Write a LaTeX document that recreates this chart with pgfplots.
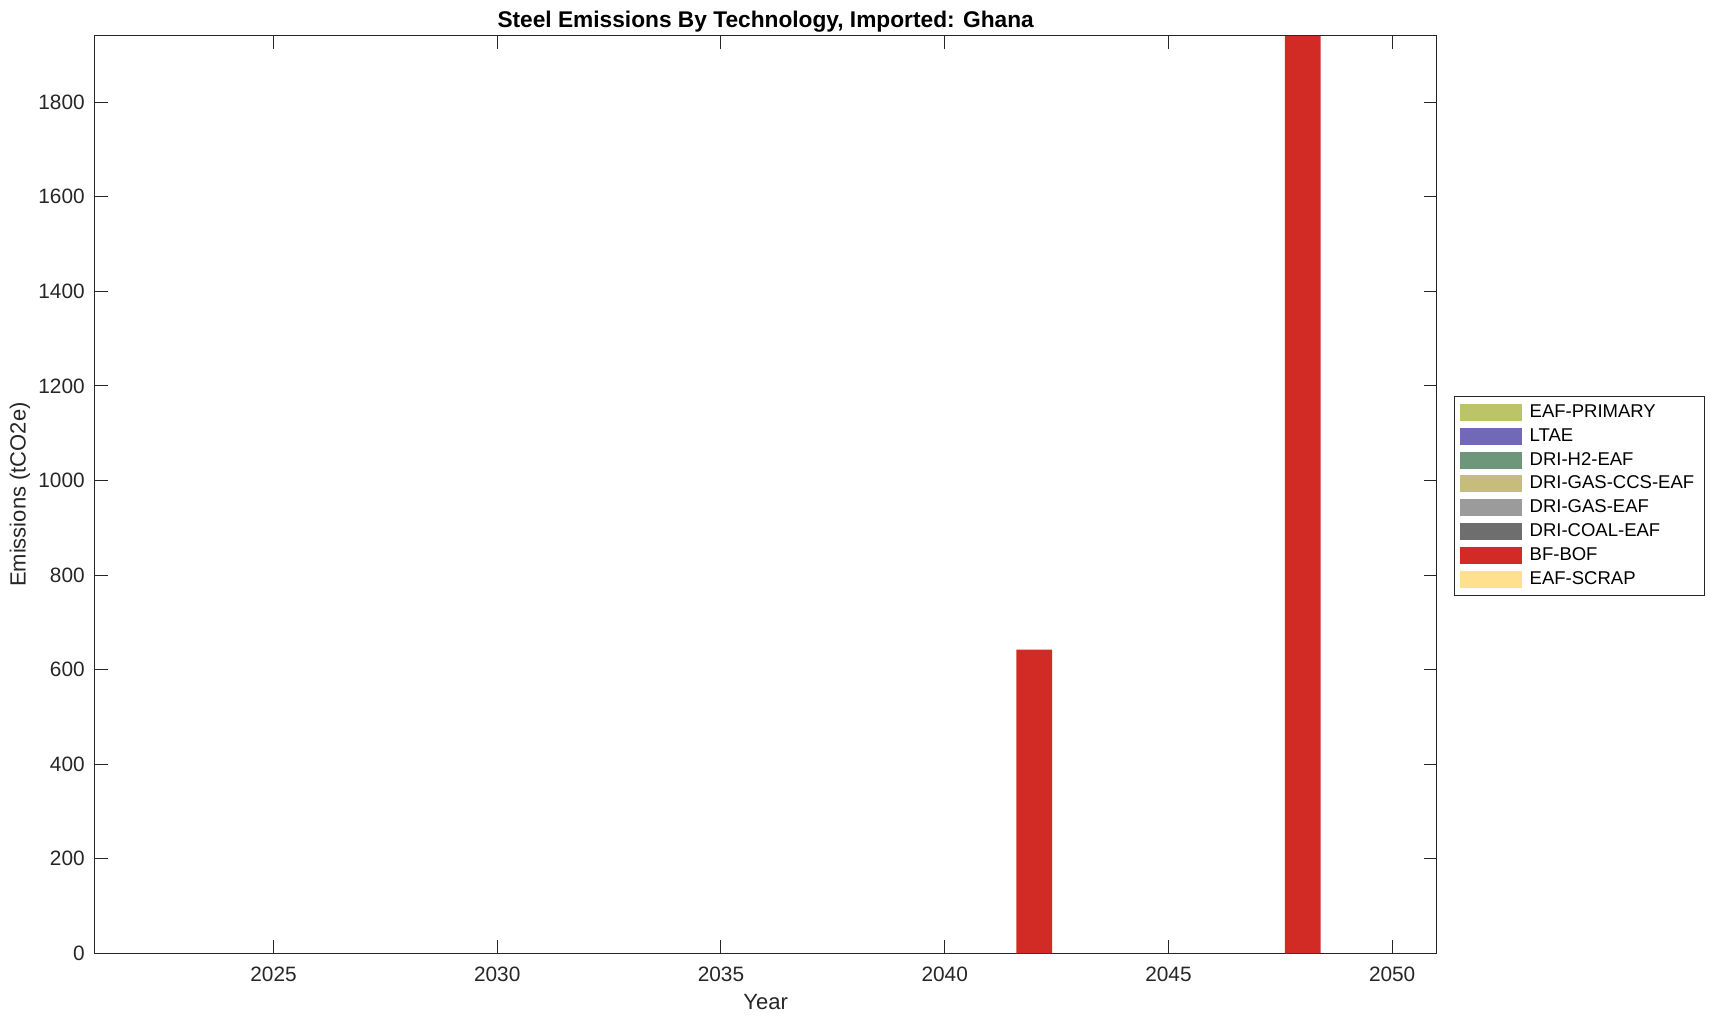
\documentclass[border=0pt]{standalone}
\usepackage{fontspec}
\setmainfont{Liberation Sans}
\usepackage{pgfplots}
\usepackage{pgfplotstable}
\pgfplotsset{compat=1.18}

\definecolor{cEAFP}{RGB}{188,196,104}
\definecolor{cLTAE}{RGB}{114,104,184}
\definecolor{cH2}{RGB}{110,150,122}
\definecolor{cCCS}{RGB}{198,188,124}
\definecolor{cGAS}{RGB}{155,155,155}
\definecolor{cCOAL}{RGB}{110,110,110}
\definecolor{cBF}{RGB}{210,43,37}
\definecolor{cSCRAP}{RGB}{254,224,142}
\definecolor{axgray}{RGB}{38,38,38}

% emissions (tCO2e) by year and technology
\pgfplotstableread{
year eafp ltae h2 ccs gas coal bfbof scrap
2022 0 0 0 0 0 0 0 0
2023 0 0 0 0 0 0 0 0
2024 0 0 0 0 0 0 0 0
2025 0 0 0 0 0 0 0 0
2026 0 0 0 0 0 0 0 0
2027 0 0 0 0 0 0 0 0
2028 0 0 0 0 0 0 0 0
2029 0 0 0 0 0 0 0 0
2030 0 0 0 0 0 0 0 0
2031 0 0 0 0 0 0 0 0
2032 0 0 0 0 0 0 0 0
2033 0 0 0 0 0 0 0 0
2034 0 0 0 0 0 0 0 0
2035 0 0 0 0 0 0 0 0
2036 0 0 0 0 0 0 0 0
2037 0 0 0 0 0 0 0 0
2038 0 0 0 0 0 0 0 0
2039 0 0 0 0 0 0 0 0
2040 0 0 0 0 0 0 0 0
2041 0 0 0 0 0 0 0 0
2042 0 0 0 0 0 0 642 0
2043 0 0 0 0 0 0 0 0
2044 0 0 0 0 0 0 0 0
2045 0 0 0 0 0 0 0 0
2046 0 0 0 0 0 0 0 0
2047 0 0 0 0 0 0 0 0
2048 0 0 0 0 0 0 1940 0
2049 0 0 0 0 0 0 0 0
2050 0 0 0 0 0 0 0 0
}\emis

\begin{document}
\begin{tikzpicture}
\begin{axis}[name=ax,
  scale only axis, width=671pt, height=458.5pt,
  ybar stacked, bar width=0.8,
  xmin=2021, xmax=2051, ymin=0, ymax=1940,
  xtick={2025,2030,...,2050}, ytick={0,200,...,1800},
  /pgf/number format/1000 sep={},
  /pgf/number format/assume math mode=true,
  tick align=inside, major tick length=6.5pt,
  axis line style={axgray, line width=0.5pt},
  tick style={axgray, line width=0.5pt},
  tick label style={font=\fontsize{10.4}{12}\selectfont, text=axgray},
  xticklabel style={yshift=-3.1pt},
  yticklabel style={xshift=-1.4pt},
  title={\textbf{Steel Emissions By Technology, Imported: Ghana}},
  title style={at={(0.5,1)}, anchor=base, yshift=-1.8pt, font=\fontsize{11.35}{13}\selectfont},
  xlabel={Year}, ylabel={Emissions (tCO2e)},
  label style={font=\fontsize{11}{13}\selectfont, text=axgray},
  xlabel style={at={(0.5,0)}, anchor=base, yshift=-28pt},
  ylabel style={at={(axis description cs:0,0.5)}, anchor=center, yshift=37.25pt},
  legend image code/.code={\fill[#1] (0pt,-4.25pt) rectangle (31pt,4.25pt);},
  legend cell align=left,
  legend style={at={(1.0127,0.6074)}, anchor=north west, draw=axgray, line width=0.5pt,
    font=\fontsize{9.25}{10}\selectfont, row sep=0pt, inner xsep=3pt, inner ysep=2pt,
    /tikz/every odd column/.append style={column sep=1.6pt}},
]
\addplot[fill=cEAFP, draw=none] table[x=year,y=eafp] {\emis};
\addplot[fill=cLTAE, draw=none] table[x=year,y=ltae] {\emis};
\addplot[fill=cH2, draw=none] table[x=year,y=h2] {\emis};
\addplot[fill=cCCS, draw=none] table[x=year,y=ccs] {\emis};
\addplot[fill=cGAS, draw=none] table[x=year,y=gas] {\emis};
\addplot[fill=cCOAL, draw=none] table[x=year,y=coal] {\emis};
\addplot[fill=cBF, draw=none] table[x=year,y=bfbof] {\emis};
\addplot[fill=cSCRAP, draw=none] table[x=year,y=scrap] {\emis};
\legend{EAF-PRIMARY,LTAE,DRI-H2-EAF,DRI-GAS-CCS-EAF,DRI-GAS-EAF,DRI-COAL-EAF,BF-BOF,EAF-SCRAP}
\end{axis}
\pgfresetboundingbox
\path ([xshift=-47.25pt,yshift=-34pt]ax.south west) rectangle ([xshift=138.5pt,yshift=18pt]ax.north east);
\end{tikzpicture}
\end{document}
